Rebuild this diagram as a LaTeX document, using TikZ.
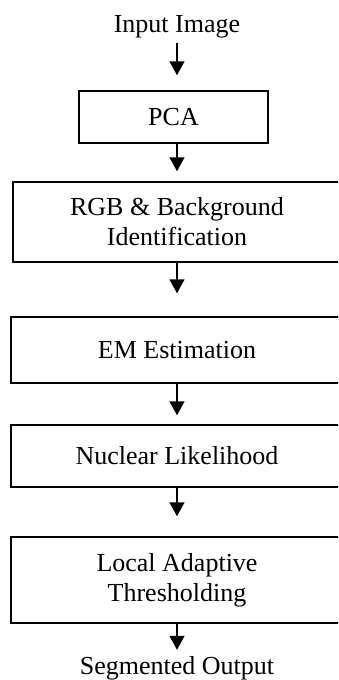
\documentclass[tikz,border=0pt]{standalone}
\usepackage{fontspec}
\setmainfont{Liberation Serif}
\usetikzlibrary{arrows.meta}

\begin{document}
\begin{tikzpicture}[x = 1pt, y = -1pt, font = \fontsize{26}{30}\selectfont,
    stage/.style = {draw, line width = 1.5pt, inner sep = 0pt, align = center},
    label/.style = {inner sep = 0pt, anchor = base},
    flow/.style = {line width = 1.6pt, -{Triangle[length = 14pt, width = 15pt]}}]
          \useasboundingbox (0,0) rectangle (338,680);
          \clip (0,0) rectangle (338,680);
          \node[label] (input) at (177,32) {Input Image};
          \node[stage, minimum width = 189pt, minimum height = 52pt] (pca) at (173.5,117) {PCA};
          \node[stage, minimum width = 328pt, minimum height = 80pt] (rgb) at (177,222) {RGB \& Background\\Identification};
          \node[stage, minimum width = 332pt, minimum height = 66pt] (em) at (177,350) {EM Estimation};
          \node[stage, minimum width = 332pt, minimum height = 62pt] (nuc) at (177,456) {Nuclear Likelihood};
          \node[stage, minimum width = 332pt, minimum height = 86pt] (lat) at (177,580) {Local Adaptive\\Thresholding};
          \node[label] (output) at (177,674) {Segmented Output};
          \draw[flow, shorten < = 5pt, shorten > = 15pt] (input.south -| 177,0) -- (pca.north -| 177,0);
          \draw[flow, shorten > = 10pt] (pca.south -| 177,0) -- (rgb.north);
          \draw[flow, shorten > = 23pt] (rgb) -- (em);
          \draw[flow, shorten > = 9pt] (em) -- (nuc);
          \draw[flow, shorten > = 20pt] (nuc) -- (lat);
          \draw[flow, shorten > = 6pt] (lat) -- (output);
        \end{tikzpicture}
\end{document}
